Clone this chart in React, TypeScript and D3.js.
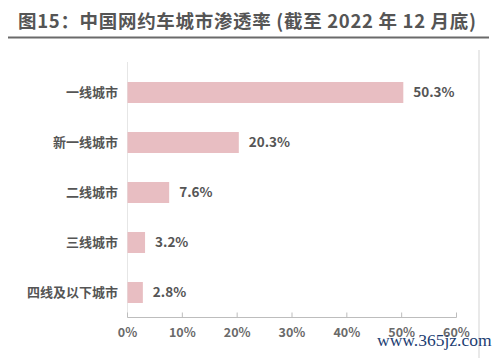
import React from "react";
import * as d3 from "d3";

const categories = ["一线城市", "新一线城市", "二线城市", "三线城市", "四线及以下城市"];
const values = [50.3, 20.3, 7.6, 3.2, 2.8];
const valueLabels = ["50.3%", "20.3%", "7.6%", "3.2%", "2.8%"];
const xTicks = [0, 10, 20, 30, 40, 50, 60];
const title = "图15：中国网约车城市渗透率 (截至 2022 年 12 月底)";
const watermark = "www.365jz.com";

const W = 500;
const H = 358;
const FONT = "'Noto Sans CJK SC', 'Noto Sans', sans-serif";

export default function App() {
  const x = d3.scaleLinear().domain([0, 60]).range([127.5, 456.5]);
  const y = d3.scaleBand<string>().domain(categories).range([67.5, 317.5]).paddingInner(0.58).paddingOuter(0.29);
  const axisY = 317.5;
  return (
    <svg width={W} height={H} style={{ position: "absolute", left: 0, top: 0, background: "#fff" }}>
      <rect x={0} y={0} width={W} height={H} fill="#fff" />
      <text x={18} y={28} fontFamily={FONT} fontWeight="bold" fontSize={18.5} fill="#555" textLength={458} lengthAdjust="spacing">{title}</text>
      <line x1={8} x2={489} y1={37.5} y2={37.5} stroke="#6a6a6a" strokeWidth={2.2} />
      <line x1={479} x2={479} y1={50} y2={H} stroke="#e2e2e2" strokeWidth={1.5} />
      <line x1={x(0)} x2={x(0)} y1={62} y2={axisY} stroke="#e6e6e6" strokeWidth={1} />
      {categories.map((c, i) => (
        <g key={c}>
          <rect x={x(0)} y={y(c)!} width={x(values[i]) - x(0)} height={y.bandwidth()} fill="#e8bec2" />
          <text x={118} y={y(c)! + y.bandwidth() / 2} dy="0.35em" textAnchor="end" fontFamily={FONT} fontWeight="bold" fontSize={13} fill="#555">{c}</text>
          <text x={x(values[i]) + 10} y={y(c)! + y.bandwidth() / 2} dy="0.35em" fontFamily={FONT} fontWeight="bold" fontSize={13.5} fill="#555">{valueLabels[i]}</text>
        </g>
      ))}
      <line x1={x(0)} x2={x(60)} y1={axisY} y2={axisY} stroke="#bdbdbd" strokeWidth={1} />
      {xTicks.map((t) => (
        <g key={t}>
          <line x1={x(t)} x2={x(t)} y1={axisY - 5} y2={axisY} stroke="#bdbdbd" strokeWidth={1} />
          <text x={x(t)} y={333} dy="0.35em" textAnchor="middle" fontFamily={FONT} fontWeight="bold" fontSize={12.5} fill="#6a6a6a">{t + "%"}</text>
        </g>
      ))}
      <text x={377} y={346} fontFamily="'Liberation Serif', 'DejaVu Serif', serif" fontSize={17.5} fill="#1c3d72">{watermark}</text>
    </svg>
  );
}
